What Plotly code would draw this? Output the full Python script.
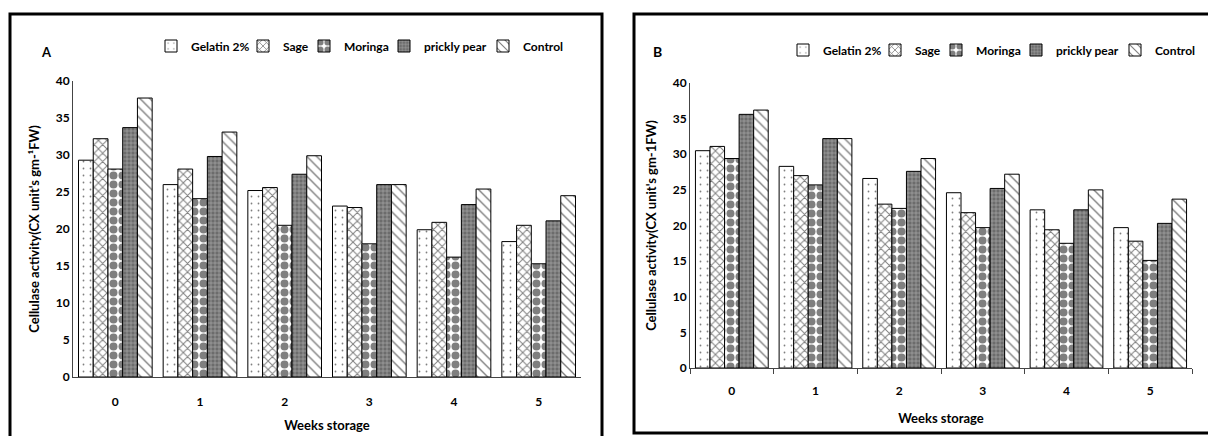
import plotly.graph_objects as go

# Storage time (weeks) and coating treatments
weeks = ["0", "1", "2", "3", "4", "5"]
treatments = ["Gelatin 2%", "Sage", "Moringa", "prickly pear", "Control"]

# Panel A – cellulase activity (CX units g-1 FW)
gelatin_a = [29.3, 26.0, 25.2, 23.1, 19.9, 18.3]
sage_a = [32.2, 28.1, 25.6, 22.9, 20.9, 20.5]
moringa_a = [28.1, 24.1, 20.5, 18.0, 16.2, 15.3]
prickly_a = [33.7, 29.8, 27.4, 26.0, 23.3, 21.1]
control_a = [37.7, 33.1, 29.9, 26.0, 25.4, 24.5]

# Panel B – cellulase activity (CX units g-1 FW)
gelatin_b = [30.5, 28.3, 26.6, 24.6, 22.2, 19.7]
sage_b = [31.1, 27.0, 23.0, 21.8, 19.4, 17.8]
moringa_b = [29.4, 25.7, 22.4, 19.7, 17.5, 15.1]
prickly_b = [35.6, 32.2, 27.6, 25.2, 22.2, 20.3]
control_b = [36.2, 32.2, 29.4, 27.2, 25.0, 23.7]

y_ticks = [0, 5, 10, 15, 20, 25, 30, 35, 40]

W, H = 1208, 436
FONT = "Lato, Carlito, Calibri, sans-serif"


def px(x):
    return x / W


def py(y):
    return 1 - y / H


# monochrome fill patterns, one per treatment
patterns = {
    "Gelatin 2%": dict(shape=".", fgcolor="black", bgcolor="white", size=7, solidity=0.05),
    "Sage": dict(shape="x", fgcolor="black", bgcolor="white", size=6, solidity=0.3),
    "Moringa": dict(shape=".", fgcolor="black", bgcolor="white", size=9, solidity=0.62),
    "prickly pear": dict(shape="+", fgcolor="white", bgcolor="#6c6c6c", size=4, solidity=0.25),
    "Control": dict(shape="\\", fgcolor="black", bgcolor="white", size=7, solidity=0.2),
}

series_a = [gelatin_a, sage_a, moringa_a, prickly_a, control_a]
series_b = [gelatin_b, sage_b, moringa_b, prickly_b, control_b]

# one legend box per treatment, placed along the top of each panel
legend_x_a = [151, 243, 304, 384, 483]
legend_x_b = [783, 875, 936, 1016, 1115]
legend_y_a = 46
legend_y_b = 50

fig = go.Figure()

for i, (name, vals) in enumerate(zip(treatments, series_a)):
    fig.add_trace(go.Bar(
        x=weeks, y=vals, name=name, xaxis="x", yaxis="y", showlegend=True,
        legend="legend" if i == 0 else f"legend{i + 1}",
        marker=dict(color="white", line=dict(color="black", width=1),
                    pattern=patterns[name]),
    ))

for i, (name, vals) in enumerate(zip(treatments, series_b)):
    fig.add_trace(go.Bar(
        x=weeks, y=vals, name=name, xaxis="x2", yaxis="y2", showlegend=True,
        legend=f"legend{i + 6}",
        marker=dict(color="white", line=dict(color="black", width=1),
                    pattern=patterns[name]),
    ))

tick_font = dict(family=FONT, size=12, color="black", weight="bold")
title_font = dict(family=FONT, size=13, color="black", weight="bold")

common_y = dict(range=[0, 40], tickvals=y_ticks, showgrid=False, zeroline=False,
                showline=True, linecolor="#444", linewidth=1, ticks="",
                tickfont=tick_font, title_font=title_font, title_standoff=13)
common_x = dict(type="category", showgrid=False, showline=True, linecolor="#444",
                linewidth=1, tickfont=tick_font, title_font=title_font,
                title_text="Weeks storage")

legend_common = dict(orientation="h", xanchor="left", yanchor="middle",
                     font=dict(family=FONT, size=12, color="black", weight="bold"),
                     bgcolor="rgba(0,0,0,0)", itemwidth=30)

legends = {}
for i, xpos in enumerate(legend_x_a + legend_x_b):
    key = "legend" if i == 0 else f"legend{i + 1}"
    ypos = legend_y_a if i < 5 else legend_y_b
    legends[key] = dict(x=px(xpos), y=py(ypos), **legend_common)

fig.update_layout(
    width=W, height=H,
    margin=dict(l=0, r=0, t=0, b=0, autoexpand=False),
    paper_bgcolor="white", plot_bgcolor="white",
    showlegend=True,
    barmode="group", bargap=0.13, bargroupgap=0,
    xaxis=dict(domain=[px(73), px(581)], anchor="y", ticks="",
               ticklabelstandoff=14, title_standoff=12, **common_x),
    yaxis=dict(domain=[py(377), py(81)], anchor="x",
               title_text="Cellulase activity(CX unit's gm-¹FW)", **common_y),
    xaxis2=dict(domain=[px(690), px(1192)], anchor="y2", ticks="outside",
                tickson="boundaries", ticklen=5, tickcolor="#444",
                ticklabelstandoff=12, title_standoff=16, **common_x),
    yaxis2=dict(domain=[py(368), py(83)], anchor="x2",
                title_text="Cellulase activity(CX unit's gm-1FW)", **common_y),
    shapes=[
        dict(type="rect", xref="paper", yref="paper", x0=px(10), x1=px(602),
             y0=py(450), y1=py(14), line=dict(color="black", width=3)),
        dict(type="rect", xref="paper", yref="paper", x0=px(634), x1=px(1215),
             y0=py(433), y1=py(14), line=dict(color="black", width=3)),
    ],
    annotations=[
        dict(text="A", x=px(39), y=py(42), xref="paper", yref="paper", showarrow=False,
             font=dict(family=FONT, size=13, color="black", weight="bold")),
        dict(text="B", x=px(658), y=py(41), xref="paper", yref="paper", showarrow=False,
             font=dict(family=FONT, size=14, color="black", weight="bold")),
    ],
    **legends,
)

fig.write_html("out.html")
